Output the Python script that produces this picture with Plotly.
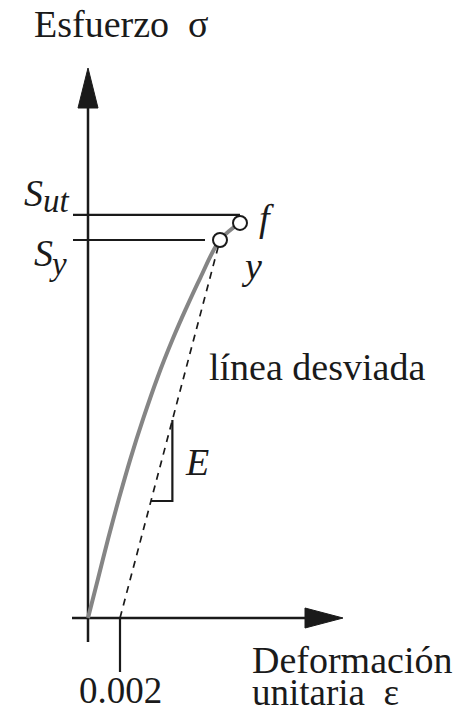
import plotly.graph_objects as go

# Engineering stress-strain curve (strain, stress in MPa)
STRAIN = [0.0, 0.00063, 0.00127, 0.00194, 0.00267, 0.00346, 0.00434,
          0.00532, 0.00613, 0.00702, 0.00825, 0.0095]
STRESS = [0.0, 44.0, 89.0, 133.0, 178.0, 222.0, 267.0,
          311.0, 344.0, 378.0, 420.0, 439.0]

OFFSET_STRAIN = 0.002          # 0.2 % offset
YIELD_STRAIN, S_Y = 0.00825, 420.0
FRACTURE_STRAIN, FRACTURE_STRESS = 0.0095, 439.0
S_UT = 448.0
E_MOD = S_Y / (YIELD_STRAIN - OFFSET_STRAIN)   # slope of the offset line
TRIANGLE_STRESS = [130.0, 220.0]               # slope triangle on offset line

TICK_LABEL = "0.002"

# Axis layout (data units)
X_RANGE = [-0.0055, 0.0236875]
Y_RANGE = [-100.0, 686.67]
PX_X = (X_RANGE[1] - X_RANGE[0]) / 467.0   # strain per pixel
PX_Y = (Y_RANGE[1] - Y_RANGE[0]) / 708.0   # stress per pixel

FONT = "'Liberation Serif', 'Times New Roman', Times, serif"
INK = "#1a1a1a"

fig = go.Figure()

def line(xs, ys, color=INK, width=2.5, dash=None, shape="linear"):
    fig.add_trace(go.Scatter(x=xs, y=ys, mode="lines", hoverinfo="skip",
                             line=dict(color=color, width=width, dash=dash, shape=shape)))

def triangle(xs, ys):
    fig.add_trace(go.Scatter(x=xs + xs[:1], y=ys + ys[:1], mode="lines", fill="toself",
                             fillcolor=INK, line=dict(color=INK, width=1), hoverinfo="skip"))

# axes with arrowheads
x_tail, x_base, x_tip = -16 * PX_X, 217 * PX_X, 255 * PX_X
y_tail, y_base, y_tip = -24 * PX_Y, 510 * PX_Y, 550 * PX_Y
line([x_tail, x_base], [0, 0])
line([0, 0], [y_tail, y_base])
triangle([x_base, x_tip, x_base], [10 * PX_Y, 0, -10 * PX_Y])
triangle([-10 * PX_X, 0, 10 * PX_X], [y_base, y_tip, y_base])

# 0.002 tick
line([OFFSET_STRAIN, OFFSET_STRAIN], [0, -54 * PX_Y], width=2.2)

# Sut and Sy reference lines
line([-15 * PX_X, FRACTURE_STRAIN], [S_UT, S_UT], width=2.2)
line([-15 * PX_X, YIELD_STRAIN - 15 * PX_X], [S_Y, S_Y], width=2.2)

# offset (dashed) line
line([OFFSET_STRAIN, YIELD_STRAIN], [0, S_Y], width=1.7, dash="7px,6px")

# slope triangle
tri_x = [OFFSET_STRAIN + s / E_MOD for s in TRIANGLE_STRESS]
line([tri_x[0], tri_x[1], tri_x[1]],
     [TRIANGLE_STRESS[0], TRIANGLE_STRESS[0], TRIANGLE_STRESS[1]], width=2.2)

# stress-strain curve
line(STRAIN, STRESS, color="#858585", width=4, shape="spline")

# yield and fracture points
fig.add_trace(go.Scatter(x=[YIELD_STRAIN, FRACTURE_STRAIN], y=[S_Y, FRACTURE_STRESS],
                         mode="markers", hoverinfo="skip",
                         marker=dict(size=14, color="white", line=dict(color=INK, width=2))))

def text(x, y, s, size=38, xanchor="center", italic=False, xref="x", yref="y"):
    if italic:
        s = "<i>" + s + "</i>"
    fig.add_annotation(x=x, y=y, xref=xref, yref=yref, text=s, showarrow=False,
                       xanchor=xanchor, yanchor="middle",
                       font=dict(family=FONT, size=size, color=INK))

def px(xp, yp):
    return X_RANGE[0] + xp * PX_X, Y_RANGE[1] - yp * PX_Y

text(*px(32, 24), "Esfuerzo&nbsp;&nbsp;σ", xanchor="left")
text(*px(250, 660), "Deformación", xanchor="left")
text(*px(250, 692), "unitaria&nbsp;&nbsp;ε", size=37, xanchor="left")
text(*px(207, 367), "línea desviada", xanchor="left")
text(OFFSET_STRAIN, px(0, 690)[1], TICK_LABEL, size=37)
text(*px(197, 462), "E", italic=True)
text(*px(266, 218), "f", italic=True)
text(*px(251, 266), "y", italic=True)
# S_ut and S_y labels
text(*px(33, 193), "S", italic=True)
text(*px(56, 201), "ut", size=33, italic=True)
text(*px(43, 253), "S", italic=True)
text(*px(58, 264), "y", size=33, italic=True)

fig.update_layout(
    width=467, height=708, margin=dict(l=0, r=0, t=0, b=0),
    paper_bgcolor="white", plot_bgcolor="white", showlegend=False,
    xaxis=dict(range=X_RANGE, visible=False, fixedrange=True),
    yaxis=dict(range=Y_RANGE, visible=False, fixedrange=True),
)

fig.write_html("out.html")
